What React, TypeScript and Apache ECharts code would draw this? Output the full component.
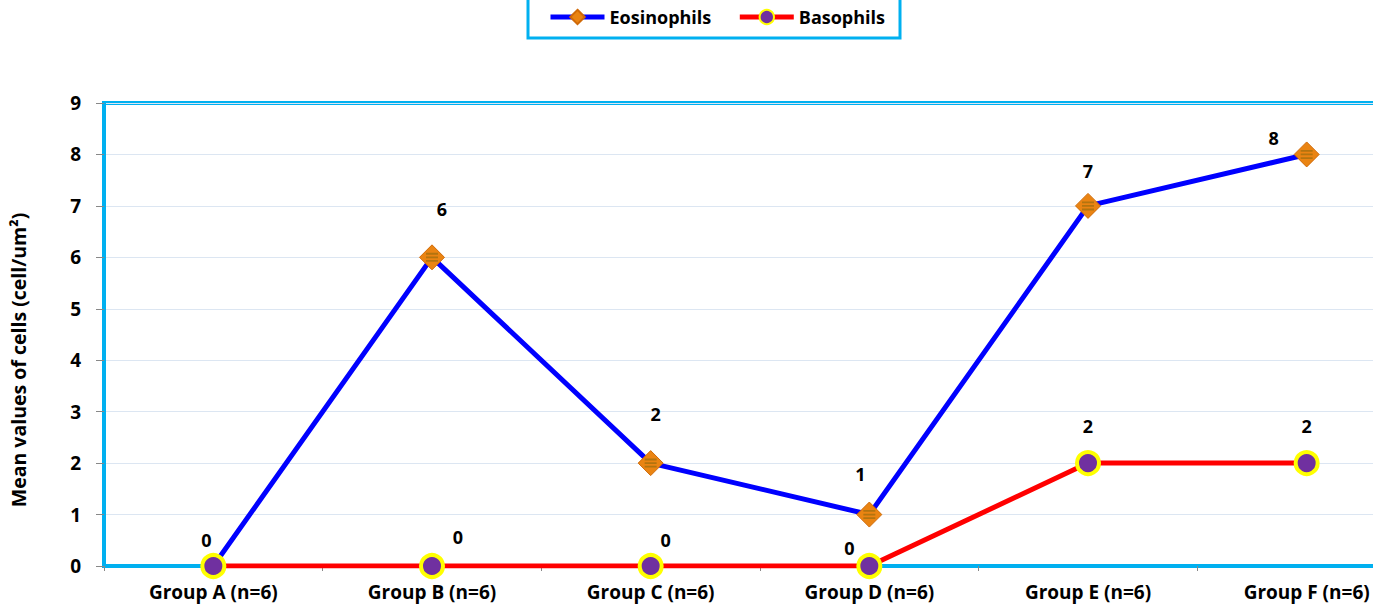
import React, { useEffect, useRef } from "react";
import * as echarts from "echarts";

const groups = [
  "Group A (n=6)",
  "Group B (n=6)",
  "Group C (n=6)",
  "Group D (n=6)",
  "Group E (n=6)",
  "Group F (n=6)",
];
const eosinophils = [0, 6, 2, 1, 7, 8];
const basophils = [0, 0, 0, 0, 2, 2];
const yTitle = "Mean values of cells (cell/um²)";

// label offsets (px) per point, so the value labels sit beside the markers
const eosOffsets = [[-7, -26], [10, -48], [5, -49], [-9, -41], [0, -35], [-33, -16]];
const basOffsets = [[0, 0], [26, -29], [15, -26], [-20, -18], [0, -37], [0, -37]];

const FONT = "'Open Sans', sans-serif";
const CYAN = "#00B0F0";

// three horizontal bands drawn across the diamond markers
const STRIPES = "path://M0,0h12v2h-12z M0,4h12v2h-12z M0,8h12v2h-12z";

export default function App() {
  const ref = useRef<HTMLDivElement>(null);

  useEffect(() => {
    if (!ref.current) return;
    const chart = echarts.init(ref.current, undefined, { renderer: "svg" });

    const labelStyle = {
      show: true,
      position: "inside",
      color: "#000",
      fontFamily: FONT,
      fontWeight: "bold",
      fontSize: 18,
    };

    chart.setOption({
      animation: false,
      backgroundColor: "#fff",
      textStyle: { fontFamily: FONT },
      legend: {
        top: -4,
        left: 528,
        padding: [12, 15, 12, 20],
        borderColor: CYAN,
        borderWidth: 3,
        itemGap: 26,
        itemWidth: 54,
        itemHeight: 18,
        lineStyle: { width: 5 },
        textStyle: { fontFamily: FONT, fontWeight: "bold", fontSize: 18, color: "#000" },
        data: ["Eosinophils", "Basophils"],
      },
      graphic: [
        {
          type: "text",
          x: 18,
          y: 360,
          rotation: Math.PI / 2,
          style: {
            text: yTitle,
            fill: "#000",
            font: `bold 19.5px ${FONT}`,
            align: "center",
            verticalAlign: "middle",
          },
        },
      ],
      grid: {
        left: 104,
        right: 14,
        top: 103,
        bottom: 43,
        show: true,
        borderColor: CYAN,
        borderWidth: 4,
        containLabel: false,
      },
      xAxis: {
        type: "category",
        data: groups,
        boundaryGap: true,
        axisLine: { show: true, lineStyle: { color: CYAN, width: 4 } },
        axisTick: { show: true, alignWithLabel: false, length: 5, lineStyle: { color: "#888", width: 1 } },
        axisLabel: {
          color: "#000",
          fontFamily: FONT,
          fontWeight: "bold",
          fontSize: 19,
          margin: 16,
          interval: 0,
        },
        splitLine: { show: false },
      },
      yAxis: {
        type: "value",
        min: 0,
        max: 9,
        interval: 1,
        axisLine: { show: true, lineStyle: { color: CYAN, width: 4 } },
        axisTick: { show: true, length: 8, lineStyle: { color: "#888", width: 1 } },
        axisLabel: { color: "#000", fontFamily: FONT, fontWeight: "bold", fontSize: 19, margin: 23 },
        splitLine: { show: true, lineStyle: { color: "#DCE6F2", width: 1 } },
      },
      series: [
        {
          name: "Eosinophils",
          type: "line",
          data: eosinophils.map((v, i) => ({
            value: v,
            label: { ...labelStyle, offset: eosOffsets[i] },
          })),
          symbol: "diamond",
          symbolSize: 25,
          lineStyle: { color: "#0000FF", width: 5 },
          itemStyle: { color: "#EA8412", borderColor: "#D06A08", borderWidth: 1 },
          z: 2,
        },
        {
          name: "Eosinophils-bands",
          type: "line",
          data: eosinophils,
          symbol: STRIPES,
          symbolSize: [12, 9],
          lineStyle: { width: 0, opacity: 0 },
          itemStyle: { color: "#A9710F", opacity: 0.85 },
          silent: true,
          tooltip: { show: false },
          z: 2.5,
        },
        {
          name: "Basophils",
          type: "line",
          data: basophils.map((v, i) => ({
            value: v,
            label: { ...labelStyle, show: i !== 0, offset: basOffsets[i] },
          })),
          symbol: "circle",
          symbolSize: 22,
          lineStyle: { color: "#FF0000", width: 5 },
          itemStyle: { color: "#7030A0", borderColor: "#FFFF00", borderWidth: 4 },
          z: 3,
        },
      ],
    });

    return () => chart.dispose();
  }, []);

  return (
    <div
      style={{
        position: "absolute",
        left: 0,
        top: 0,
        width: 1373,
        height: 609,
        overflow: "hidden",
        background: "#fff",
      }}
    >
      <div ref={ref} style={{ width: 1430, height: 609 }} />
    </div>
  );
}
